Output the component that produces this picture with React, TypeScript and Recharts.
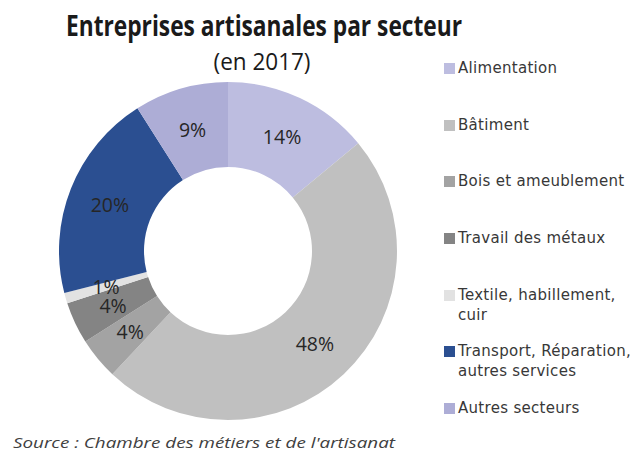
import { PieChart, Pie, Cell, Legend } from 'recharts'

const sectors = [
  'Alimentation',
  'Bâtiment',
  'Bois et ameublement',
  'Travail des métaux',
  'Textile, habillement, cuir',
  'Transport, Réparation, autres services',
  'Autres secteurs',
]
const shares = [14, 48, 4, 4, 1, 20, 9]
const colors = ['#bdbde0', '#c0c0c0', '#a3a3a3', '#848484', '#e2e2e2', '#2b4f91', '#adadd6']

const data = sectors.map((name, i) => ({ name, value: shares[i] }))

const RADIAN = Math.PI / 180

// étiquettes au milieu de l'anneau
const renderLabel = (props: any) => {
  const { cx, cy, midAngle, value } = props
  const r = 127
  const x = cx + r * Math.cos(-midAngle * RADIAN)
  const y = cy + r * Math.sin(-midAngle * RADIAN)
  return (
    <text
      x={x}
      y={y}
      fill="#262626"
      textAnchor="middle"
      dominantBaseline="central"
      style={{ fontSize: 19.5, fontFamily: 'Open Sans' }}
    >
      {`${value}%`}
    </text>
  )
}

// légende dans l'ordre des données
const renderLegend = (props: any) => {
  const payload = [...(props.payload || [])].sort(
    (a: any, b: any) => sectors.indexOf(a.value) - sectors.indexOf(b.value)
  )
  return (
    <div style={{ fontFamily: 'DejaVu Sans', fontSize: 15, letterSpacing: 0.3, color: '#383838' }}>
      {payload.map((entry: any, i: number) => (
        <div key={i} style={{ display: 'flex', alignItems: 'flex-start', height: 56.7 }}>
          <div style={{ width: 11, height: 11, marginTop: 5, marginRight: 3, background: entry.color, flexShrink: 0 }} />
          <div style={{ width: 178, lineHeight: '20px' }}>{entry.value}</div>
        </div>
      ))}
    </div>
  )
}

export default function App() {
  return (
    <div style={{ position: 'absolute', left: 0, top: 0, width: 641, height: 453, background: '#fff' }}>
      <svg width={641} height={453} style={{ position: 'absolute', left: 0, top: 0 }}>
        <text
          x={264}
          y={36}
          textAnchor="middle"
          textLength={396}
          lengthAdjust="spacingAndGlyphs"
          fill="#1a1a1a"
          style={{ fontSize: 28, fontWeight: 'bold', fontFamily: 'Open Sans' }}
        >
          Entreprises artisanales par secteur
        </text>
        <text
          x={262}
          y={70}
          textAnchor="middle"
          textLength={97}
          lengthAdjust="spacingAndGlyphs"
          fill="#1a1a1a"
          style={{ fontSize: 24, fontFamily: 'Open Sans' }}
        >
          (en 2017)
        </text>
        <text
          x={13}
          y={448}
          textLength={382}
          lengthAdjust="spacingAndGlyphs"
          fill="#404040"
          style={{ fontSize: 14, fontStyle: 'italic', fontFamily: 'Open Sans' }}
        >
          Source : Chambre des métiers et de l'artisanat
        </text>
      </svg>
      <div style={{ position: 'absolute', left: 0, top: 0 }}>
        <PieChart width={641} height={453} margin={{ top: 0, right: 0, bottom: 0, left: 0 }}>
          <Pie
            data={data}
            dataKey="value"
            nameKey="name"
            cx={228}
            cy={251}
            innerRadius={84}
            outerRadius={169}
            startAngle={90}
            endAngle={-270}
            stroke="none"
            label={renderLabel}
            labelLine={false}
            isAnimationActive={false}
          >
            {data.map((d, i) => (
              <Cell key={d.name} fill={colors[i]} />
            ))}
          </Pie>
          <Legend
            layout="vertical"
            content={renderLegend}
            wrapperStyle={{ left: 444, top: 58, width: 195 }}
          />
        </PieChart>
      </div>
    </div>
  )
}
